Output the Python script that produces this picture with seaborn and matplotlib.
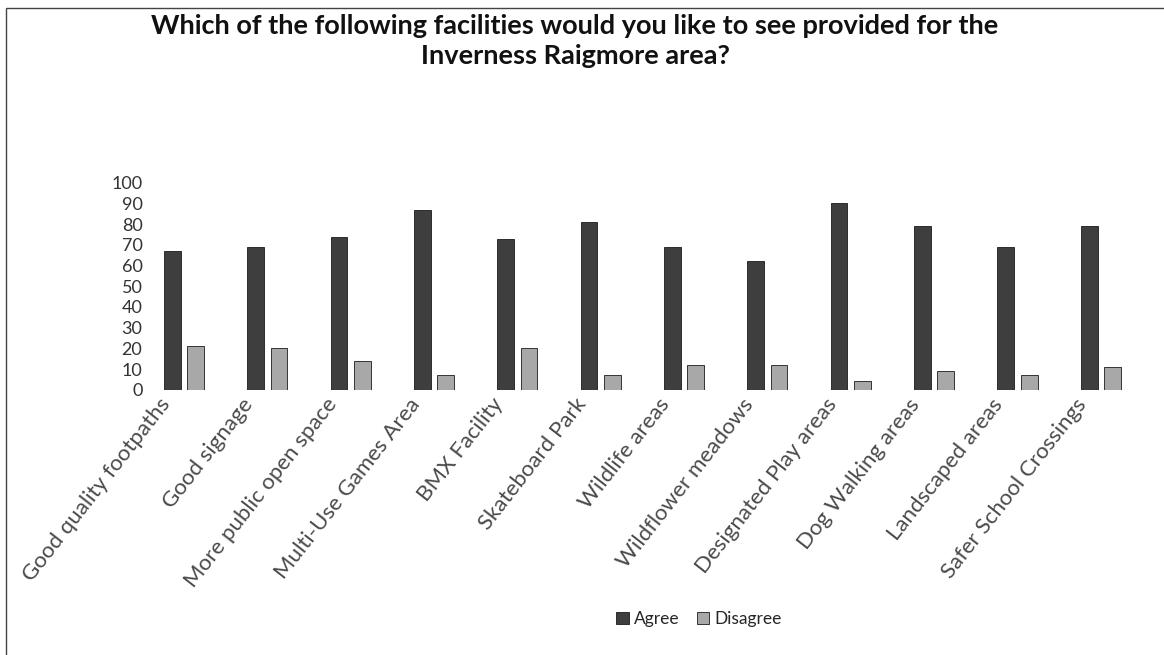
import matplotlib
matplotlib.use("Agg")
import matplotlib.pyplot as plt
import matplotlib.transforms as mtrans
import seaborn as sns
import pandas as pd
from matplotlib.patches import Rectangle

# data
facilities = ["Good quality footpaths", "Good signage", "More public open space",
              "Multi-Use Games Area", "BMX Facility", "Skateboard Park",
              "Wildlife areas", "Wildflower meadows", "Designated Play areas",
              "Dog Walking areas", "Landscaped areas", "Safer School Crossings"]
agree = [67, 69, 74, 87, 73, 81, 69, 62, 90, 79, 69, 79]
disagree = [21, 20, 14, 7, 20, 7, 12, 12, 4, 9, 7, 11]
series = ["Agree", "Disagree"]
yticks = list(range(0, 101, 10))

df = pd.DataFrame({
    "facility": facilities * 2,
    "response": [series[0]] * len(facilities) + [series[1]] * len(facilities),
    "value": agree + disagree,
})

sns.set_theme(style="white")
plt.rcParams["font.family"] = ["Lato", "DejaVu Sans"]

fig = plt.figure(figsize=(11.64, 6.55), dpi=100)
ax = fig.add_axes([0.1259, 0.405, 0.852, 0.316])

sns.barplot(data=df, x="facility", y="value", hue="response", ax=ax,
            palette=["#3e3e3e", "#a8a8a8"], width=0.56, gap=0.28,
            edgecolor="#1a1a1a", linewidth=0.6, saturation=1)

ax.set_ylim(0, 100)
ax.set_yticks(yticks)
ax.set_yticklabels([str(t) for t in yticks], fontsize=13, color="#333333")
ax.set_xlim(-0.45, len(facilities) - 0.55)
ax.set_xlabel("")
ax.set_ylabel("")
ax.tick_params(axis="both", length=0)
ax.tick_params(axis="y", pad=3)
ax.tick_params(axis="x", pad=8)

# rotated category labels, nudged left so they end just under each group
shift = mtrans.ScaledTranslation(-18 / 100, 0, fig.dpi_scale_trans)
for lab in ax.get_xticklabels():
    lab.set_rotation(52)
    lab.set_ha("right")
    lab.set_va("center")
    lab.set_rotation_mode("anchor")
    lab.set_fontsize(16)
    lab.set_color("#4a4a4a")
    lab.set_transform(lab.get_transform() + shift)
for s in ax.spines.values():
    s.set_visible(False)

ax.legend(loc="center", bbox_to_anchor=(0.557, -1.11), ncol=2, frameon=False,
          fontsize=12.5, handlelength=0.7, handleheight=0.7, handletextpad=0.3,
          columnspacing=1.0)

fig.text(0.494, 0.960, "Which of the following facilities would you like to see provided for the",
         ha="center", va="center", fontsize=19.5, fontweight="bold", color="#111111")
fig.text(0.494, 0.914, "Inverness Raigmore area?",
         ha="center", va="center", fontsize=19.5, fontweight="bold", color="#111111")

# thin frame around the chart area
fig.patches.append(Rectangle((0.005, -0.01), 0.999, 0.998, transform=fig.transFigure,
                             fill=False, edgecolor="#444444", linewidth=1.0))

fig.savefig("out.png", dpi=100)
